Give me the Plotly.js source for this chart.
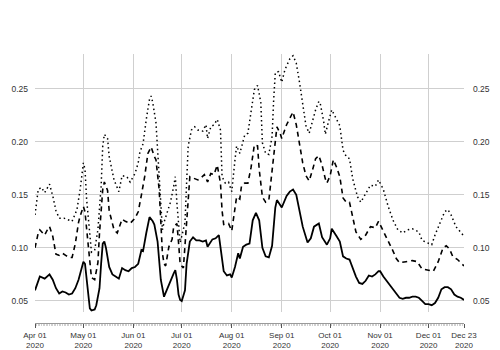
<!DOCTYPE html>
<html>
<head>
<meta charset="utf-8">
<script src="https://cdn.plot.ly/plotly-3.0.1.min.js"></script>
<style>html,body{margin:0;padding:0;background:#fff;}#chart{width:500px;height:350px;}</style>
</head>
<body>
<div id="chart"></div>
<script>
// Day offsets from 2020-04-01 and values
const solidDays = [0,3,6,9,11,13,15,17,19,21,23,25,27,29,30,31,32,33,34,35,37,38,40,41,42,43,44,46,48,50,52,54,56,58,60,62,64,66,67,69,71,73,74,76,77,78,80,82,84,86,87,88,89,90,91,93,94,96,98,100,102,104,106,107,110,112,114,115,117,119,121,122,124,126,127,129,131,133,135,137,139,141,143,145,147,149,150,153,156,158,160,162,164,166,169,171,173,176,178,181,183,184,187,189,191,193,195,197,199,201,203,205,207,209,211,213,214,216,219,222,224,226,228,230,232,234,236,238,240,242,244,246,248,250,252,254,256,258,260,262,264,266];
const solidVals = [0.060,0.073,0.071,0.075,0.070,0.062,0.057,0.059,0.058,0.056,0.057,0.062,0.070,0.082,0.087,0.085,0.072,0.055,0.043,0.041,0.042,0.046,0.062,0.085,0.104,0.106,0.100,0.082,0.075,0.073,0.071,0.081,0.079,0.078,0.081,0.082,0.085,0.098,0.097,0.114,0.129,0.125,0.122,0.106,0.088,0.070,0.054,0.062,0.069,0.076,0.079,0.070,0.056,0.051,0.050,0.060,0.085,0.106,0.110,0.107,0.107,0.106,0.107,0.101,0.108,0.109,0.112,0.101,0.078,0.074,0.075,0.072,0.082,0.095,0.090,0.101,0.103,0.104,0.126,0.133,0.126,0.100,0.092,0.091,0.102,0.138,0.145,0.138,0.149,0.153,0.155,0.150,0.134,0.120,0.105,0.109,0.120,0.123,0.110,0.103,0.109,0.118,0.111,0.106,0.092,0.090,0.089,0.080,0.073,0.067,0.066,0.069,0.074,0.073,0.075,0.078,0.078,0.073,0.067,0.061,0.057,0.053,0.052,0.053,0.053,0.054,0.054,0.053,0.050,0.047,0.047,0.046,0.048,0.053,0.061,0.063,0.063,0.061,0.056,0.054,0.053,0.051];

const dashDays = [0,2,3,5,6,8,9,11,13,15,17,19,21,23,25,27,28,30,31,32,33,35,37,39,40,42,43,45,46,49,51,54,56,59,62,64,66,68,70,72,74,75,77,78,79,80,81,83,85,86,88,89,90,92,93,95,96,98,101,103,105,107,109,111,113,115,116,117,120,122,124,125,127,128,130,132,134,136,138,139,141,143,145,147,149,150,152,153,156,158,160,162,164,166,168,170,172,174,176,178,180,181,183,185,187,189,191,193,195,197,199,202,205,208,211,213,216,219,222,224,226,230,234,237,240,244,247,250,253,255,257,259,262,266];
const dashVals = [0.100,0.114,0.117,0.114,0.112,0.118,0.120,0.111,0.094,0.093,0.095,0.093,0.091,0.091,0.104,0.124,0.130,0.139,0.134,0.118,0.100,0.072,0.070,0.086,0.114,0.155,0.162,0.154,0.135,0.117,0.114,0.127,0.125,0.123,0.128,0.134,0.150,0.167,0.189,0.195,0.186,0.183,0.155,0.124,0.095,0.085,0.083,0.101,0.108,0.120,0.123,0.105,0.085,0.081,0.100,0.145,0.167,0.166,0.164,0.166,0.169,0.162,0.170,0.169,0.178,0.161,0.135,0.122,0.123,0.116,0.136,0.148,0.146,0.158,0.161,0.161,0.176,0.197,0.196,0.174,0.148,0.143,0.145,0.175,0.202,0.214,0.208,0.203,0.216,0.222,0.228,0.216,0.196,0.180,0.168,0.163,0.173,0.184,0.187,0.178,0.165,0.161,0.168,0.183,0.176,0.167,0.147,0.143,0.143,0.128,0.115,0.108,0.112,0.120,0.119,0.125,0.116,0.106,0.097,0.090,0.086,0.087,0.088,0.087,0.080,0.079,0.078,0.087,0.100,0.102,0.099,0.092,0.089,0.083];

const dotDays = [0,2,4,6,9,11,13,15,18,21,23,26,28,30,31,32,34,35,37,39,41,42,43,45,46,49,52,54,57,59,62,64,65,67,69,71,72,73,75,76,77,78,79,80,82,84,86,87,88,90,91,93,94,95,97,99,101,104,106,107,109,111,113,115,116,118,120,122,124,125,127,129,130,132,134,136,138,140,141,143,145,147,148,149,151,153,155,158,160,162,164,166,168,170,172,174,176,177,179,180,182,184,187,189,191,193,195,197,200,202,205,208,211,213,216,219,222,225,228,231,234,238,240,243,246,248,251,254,256,258,261,266];
const dotVals = [0.131,0.155,0.157,0.152,0.160,0.149,0.135,0.128,0.128,0.126,0.125,0.136,0.155,0.180,0.174,0.146,0.114,0.096,0.098,0.117,0.158,0.196,0.207,0.203,0.186,0.164,0.153,0.168,0.167,0.162,0.170,0.180,0.190,0.198,0.221,0.240,0.243,0.237,0.218,0.192,0.161,0.133,0.117,0.124,0.133,0.143,0.158,0.167,0.142,0.105,0.111,0.124,0.161,0.196,0.211,0.214,0.211,0.210,0.216,0.203,0.214,0.216,0.221,0.211,0.167,0.161,0.162,0.153,0.183,0.196,0.189,0.199,0.206,0.208,0.227,0.249,0.253,0.237,0.199,0.189,0.188,0.205,0.240,0.265,0.266,0.256,0.268,0.278,0.281,0.274,0.256,0.237,0.215,0.208,0.219,0.230,0.238,0.235,0.219,0.207,0.219,0.230,0.221,0.215,0.192,0.186,0.184,0.165,0.148,0.143,0.151,0.159,0.158,0.164,0.155,0.139,0.126,0.117,0.114,0.117,0.118,0.115,0.107,0.105,0.103,0.112,0.123,0.134,0.136,0.131,0.120,0.111];

const tickDates = ['2020-04-01','2020-05-01','2020-06-01','2020-07-01','2020-08-01','2020-09-01','2020-10-01','2020-11-01','2020-12-01','2020-12-23'];
const tickLabels = ['Apr 01<br>2020','May 01<br>2020','Jun 01<br>2020','Jul 01<br>2020','Aug 01<br>2020','Sep 01<br>2020','Oct 01<br>2020','Nov 01<br>2020','Dec 01<br>2020','Dec 23<br>2020'];
const yTicks = [0.05,0.10,0.15,0.20,0.25];
const yTickLabels = ['0.05','0.10','0.15','0.20','0.25'];

function toDate(d){
  const t = new Date(Date.UTC(2020,3,1+d));
  return t.toISOString().slice(0,10);
}

const FONT = 'Liberation Sans, Arial, Helvetica, sans-serif';
const yr = [0.0396, 0.2826];

const traces = [
  {x: dotDays.map(toDate), y: dotVals, type:'scatter', mode:'lines', yaxis:'y2',
   line:{color:'#000', width:1.5, dash:'1.5px,3px'}, hoverinfo:'skip'},
  {x: dashDays.map(toDate), y: dashVals, type:'scatter', mode:'lines',
   line:{color:'#000', width:1.6, dash:'5px,4px'}, hoverinfo:'skip'},
  {x: solidDays.map(toDate), y: solidVals, type:'scatter', mode:'lines',
   line:{color:'#000', width:1.8}, hoverinfo:'skip'}
];

const layout = {
  width:500, height:350,
  margin:{l:35, r:36, t:54, b:27},
  paper_bgcolor:'#fff', plot_bgcolor:'#fff',
  showlegend:false,
  font:{family:FONT, size:9, color:'#333'},
  xaxis:{
    type:'date', range:['2020-04-01','2020-12-23'],
    anchor:'free', position:0,
    tickmode:'array', tickvals:tickDates, ticktext:tickLabels,
    showgrid:true, gridcolor:'#cfcfcf', gridwidth:1,
    showline:true, linecolor:'#9a9a9a', linewidth:1,
    ticks:'outside', ticklen:4, tickcolor:'#555', tickwidth:1,
    minor:{ticks:'outside', dtick:86400000, ticklen:2, tickcolor:'#d0d0d0', showgrid:false},
    zeroline:false, tickfont:{family:FONT, size:8, color:'#333'}
  },
  yaxis:{
    domain:[0.0409,1], range:yr, tickmode:'array', tickvals:yTicks, ticktext:yTickLabels,
    showgrid:true, gridcolor:'#cfcfcf', gridwidth:1, zeroline:false, showline:false,
    ticks:'', ticklabelstandoff:6, tickfont:{family:FONT, size:8.5, color:'#333'}
  },
  yaxis2:{
    domain:[0.0409,1], range:yr, overlaying:'y', side:'right', anchor:'x',
    tickmode:'array', tickvals:yTicks, ticktext:yTickLabels,
    showgrid:false, zeroline:false, showline:false, ticks:'', ticklabelstandoff:8,
    tickfont:{family:FONT, size:8.5, color:'#333'}
  }
};

Plotly.newPlot('chart', traces, layout, {staticPlot:true, displayModeBar:false});
</script>
</body>
</html>
